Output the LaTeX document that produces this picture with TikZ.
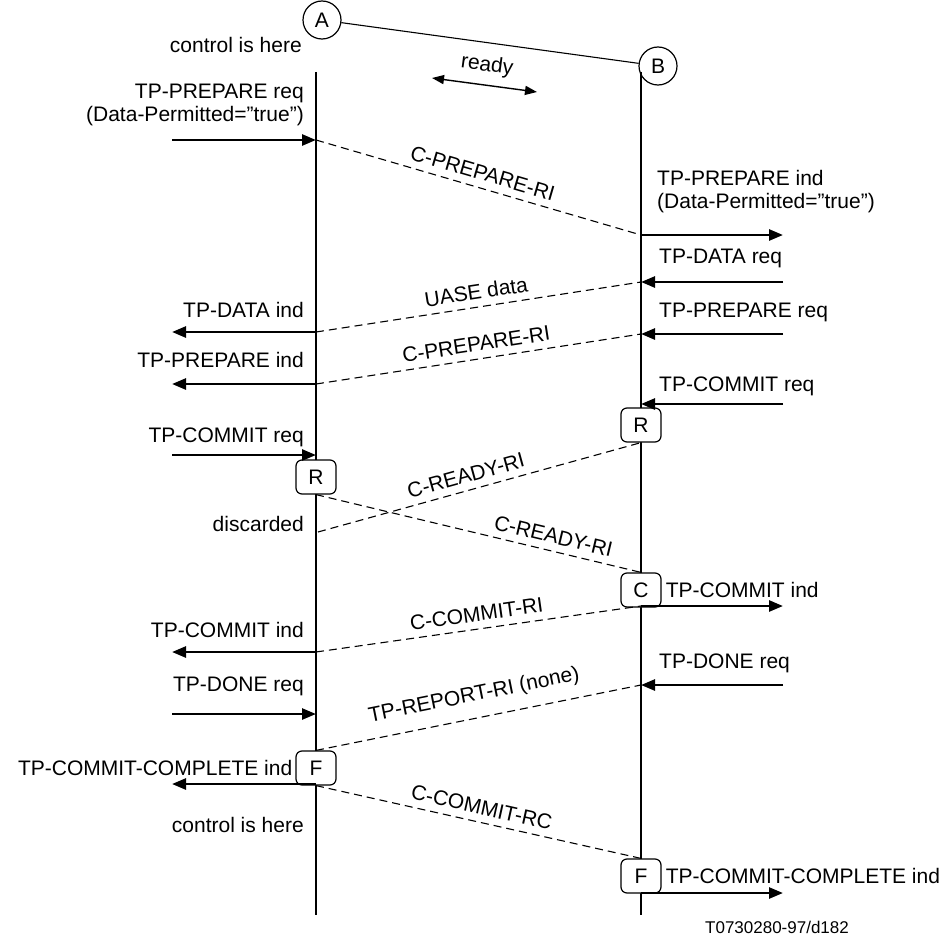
\documentclass[tikz,border=0pt]{standalone}
\usepackage{fontspec}
\setmainfont{Liberation Sans}
\usetikzlibrary{arrows.meta}
\begin{document}
\begin{tikzpicture}[x=1pt,y=-1pt,
  lbl/.style={font=\fontsize{21}{23}\selectfont, inner sep=0pt},
  lifeln/.style={line width=1.6pt},
  msg/.style={line width=2.6pt, -{Triangle[length=14pt,width=11pt]}},
  dmsg/.style={line width=1.1pt, dash pattern=on 8pt off 5pt},
  dlbl/.style={font=\fontsize{21}{23}\selectfont, inner sep=0pt, sloped, above=7pt, midway},
  statebox/.style={draw, line width=1.2pt, rounded corners=6pt, minimum width=40pt, minimum height=34pt, inner sep=0pt, fill=white, font=\fontsize{21}{23}\selectfont},
  circ/.style={draw, circle, line width=1.2pt, minimum size=38pt, inner sep=0pt, font=\fontsize{21}{23}\selectfont}
]
\useasboundingbox (0,0) rectangle (951,942);
\fill[white] (0,0) rectangle (951,942);

% top
\node[circ] (A) at (322,20) {A};
\node[circ] (B) at (658,66) {B};
\draw[line width=1.1pt] (A) -- (B);
\node[lbl, anchor=east] (ctl1) at (302,45) {control is here};
\coordinate (r1) at (432,78);
\coordinate (r2) at (537,92);
\draw[line width=1.4pt, {Triangle[length=12pt,width=9pt]}-{Triangle[length=12pt,width=9pt]}] (r1) -- (r2) node[dlbl, above=2pt] (rdy) {ready};

% lifelines
\coordinate (a0) at (316,72); \coordinate (a1) at (316,915);
\coordinate (b0) at (641,72); \coordinate (b1) at (641,915);
\draw[lifeln] (a0) -- (a1);
\draw[lifeln] (b0) -- (b1);

% state boxes
\node[statebox] (RA) at (316,477) {R};
\node[statebox] (RB) at (641,425) {R};
\node[statebox] (CB) at (641,590) {C};
\node[statebox] (FA) at (316,768) {F};
\node[statebox] (FB) at (641,876) {F};

% left side labels
\node[lbl, anchor=east, align=right] (t1) at (304,105) {TP-PREPARE req\\(Data-Permitted="true")};
\node[lbl, anchor=east] (t2) at (304,310) {TP-DATA ind};
\node[lbl, anchor=east] (t3) at (304,360) {TP-PREPARE ind};
\node[lbl, anchor=east] (t4) at (304,437) {TP-COMMIT req};
\node[lbl, anchor=east] (t5) at (304,524) {discarded};
\node[lbl, anchor=east] (t6) at (304,630) {TP-COMMIT ind};
\node[lbl, anchor=east] (t7) at (304,686) {TP-DONE req};
\node[lbl, anchor=east] (t8) at ([xshift=-3pt]FA.west) {TP-COMMIT-COMPLETE ind};
\node[lbl, anchor=east] (ctl2) at (304,825) {control is here};

% right side labels
\node[lbl, anchor=west, align=left] (u1) at (657,192) {TP-PREPARE ind\\(Data-Permitted="true")};
\node[lbl, anchor=west] (u2) at (659,258) {TP-DATA req};
\node[lbl, anchor=west] (u3) at (659,312) {TP-PREPARE req};
\node[lbl, anchor=west] (u4) at (659,386) {TP-COMMIT req};
\node[lbl, anchor=west] (u5) at ([xshift=4pt]CB.east) {TP-COMMIT ind};
\node[lbl, anchor=west] (u6) at (659,663) {TP-DONE req};
\node[lbl, anchor=west] (u7) at ([xshift=4pt]FB.east) {TP-COMMIT-COMPLETE ind};

% left arrows
\coordinate (L1) at (172,140); \coordinate (A1) at (316,140);
\coordinate (L2) at (172,332); \coordinate (A2) at (316,332);
\coordinate (L3) at (172,384); \coordinate (A3) at (316,384);
\coordinate (L4) at (172,455); \coordinate (A4) at (316,455);
\coordinate (L6) at (172,652); \coordinate (A6) at (316,652);
\coordinate (L7) at (172,714); \coordinate (A7) at (316,714);
\coordinate (L8) at (172,784); \coordinate (A8) at (316,784);
\draw[msg] (L1) -- (A1);
\draw[msg] (A2) -- (L2);
\draw[msg] (A3) -- (L3);
\draw[msg] (L4) -- (A4);
\draw[msg] (A6) -- (L6);
\draw[msg] (L7) -- (A7);
\draw[msg] (A8) -- (L8);

% right arrows
\coordinate (R1) at (783,235); \coordinate (B1) at (641,235);
\coordinate (R2) at (783,282); \coordinate (B2) at (641,282);
\coordinate (R3) at (783,334); \coordinate (B3) at (641,334);
\coordinate (R4) at (783,404); \coordinate (B4) at (641,404);
\coordinate (R5) at (783,606); \coordinate (B5) at (641,606);
\coordinate (R6) at (783,685); \coordinate (B6) at (641,685);
\coordinate (R7) at (783,893); \coordinate (B7) at (641,893);
\draw[msg] (B1) -- (R1);
\draw[msg] (R2) -- (B2);
\draw[msg] (R3) -- (B3);
\draw[msg] (R4) -- (B4);
\draw[msg] (B5) -- (R5);
\draw[msg] (R6) -- (B6);
\draw[msg] (B7) -- (R7);

% dashed messages
\coordinate (D4) at (318,532);
\draw[dmsg] (A1) -- (B1) node[dlbl] (m1) {C-PREPARE-RI};
\draw[dmsg] (A2) -- (B2) node[dlbl] (m2) {UASE data};
\draw[dmsg] (A3) -- (B3) node[dlbl] (m3) {C-PREPARE-RI};
\draw[dmsg] (D4) -- (RB.south) node[dlbl, pos=0.47] (m4) {C-READY-RI};
\draw[dmsg] (RA.south) -- (CB.north) node[dlbl, pos=0.72] (m5) {C-READY-RI};
\draw[dmsg] (A6) -- (B5) node[dlbl] (m6) {C-COMMIT-RI};
\draw[dmsg] (FA.north) -- (B6) node[dlbl, above=5pt] (m7) {TP-REPORT-RI (none)};
\draw[dmsg] (FA.south) -- (FB.north) node[dlbl] (m8) {C-COMMIT-RC};

\node[font=\fontsize{17}{19}\selectfont, inner sep=0pt] (ref) at (777,927) {T0730280-97/d182};
\end{tikzpicture}
\end{document}
